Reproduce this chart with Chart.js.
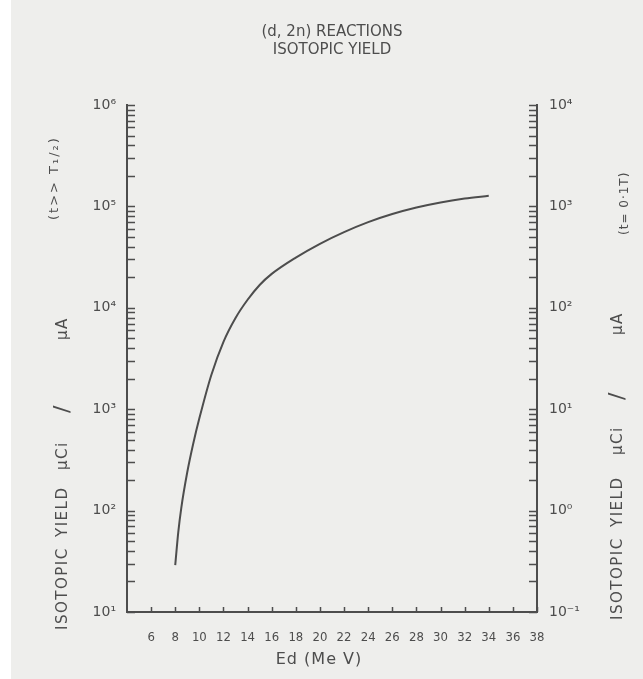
<!DOCTYPE html>
<html>
<head>
<meta charset="utf-8">
<script src="https://cdn.jsdelivr.net/npm/chart.js@4.4.0/dist/chart.umd.min.js"></script>
<style>
  html, body { margin: 0; padding: 0; background: #fff; }
</style>
</head>
<body>
<canvas id="chart" width="643" height="679"></canvas>
<script>
// Deuteron energy (MeV) and isotopic yield (uCi/uA, t >> T1/2)
const energy = [8, 8.25, 8.5, 9, 9.5, 10, 11, 12, 13, 14, 15, 16, 18, 20, 22, 24, 26, 28, 30, 32, 34];
const yieldSat = [29, 61, 106, 240, 462, 813, 2190, 4620, 7940, 12000, 16800, 21600, 31300, 42800, 55800, 70000, 84100, 97500, 109400, 119400, 127400];

// axis ticks
const xTicks = [6, 8, 10, 12, 14, 16, 18, 20, 22, 24, 26, 28, 30, 32, 34, 36, 38];
const leftDecades = [1e1, 1e2, 1e3, 1e4, 1e5, 1e6];
const rightDecades = [1e-1, 1e0, 1e1, 1e2, 1e3, 1e4];
const minorSteps = [2, 3, 4, 5, 6, 7, 8, 9];

const INK = '#4d4d4d';
const PAPER = '#eeeeec';
const sup = { '-': '\u207B', '0': '\u2070', '1': '\u00B9', '2': '\u00B2', '3': '\u00B3',
  '4': '\u2074', '5': '\u2075', '6': '\u2076', '7': '\u2077', '8': '\u2078', '9': '\u2079' };

function logTicks(decades) {
  const out = [];
  decades.forEach((d, i) => {
    out.push({ value: d });
    if (i < decades.length - 1) minorSteps.forEach(m => out.push({ value: d * m }));
  });
  return out;
}

function decadeLabel(value) {
  const e = Math.log10(value);
  if (Math.abs(e - Math.round(e)) > 1e-6) return '';
  return '10' + String(Math.round(e)).split('').map(c => sup[c]).join('');
}

// draw a text run reading bottom-to-top
function vtext(ctx, str, x, y, font, spacing) {
  ctx.save();
  ctx.translate(x, y);
  ctx.rotate(-Math.PI / 2);
  ctx.font = font;
  ctx.letterSpacing = spacing || '0px';
  ctx.fillStyle = INK;
  ctx.textAlign = 'left';
  ctx.textBaseline = 'middle';
  ctx.fillText(str, 0, 0);
  ctx.restore();
}

const paper = {
  id: 'paper',
  beforeDraw(chart) {
    const ctx = chart.ctx;
    ctx.save();
    ctx.fillStyle = '#ffffff';
    ctx.fillRect(0, 0, chart.width, chart.height);
    ctx.fillStyle = PAPER;
    ctx.fillRect(11, 0, chart.width - 11, chart.height);
    ctx.restore();
  }
};

// tick marks drawn inside the plot, like the printed log paper
const innerTicks = {
  id: 'innerTicks',
  afterDraw(chart) {
    const ctx = chart.ctx;
    const area = chart.chartArea;
    const { x, y, y2 } = chart.scales;
    ctx.save();
    ctx.strokeStyle = INK;
    ctx.lineWidth = 1.5;
    ctx.beginPath();
    y.ticks.forEach(t => {
      const py = Math.round(y.getPixelForValue(t.value)) + 0.5;
      ctx.moveTo(area.left, py);
      ctx.lineTo(area.left + 8, py);
    });
    y2.ticks.forEach(t => {
      const py = Math.round(y2.getPixelForValue(t.value)) + 0.5;
      ctx.moveTo(area.right, py);
      ctx.lineTo(area.right - 8, py);
    });
    x.ticks.forEach(t => {
      const px = Math.round(x.getPixelForValue(t.value)) + 0.5;
      ctx.moveTo(px, area.bottom);
      ctx.lineTo(px, area.bottom - 5);
    });
    ctx.stroke();
    ctx.restore();
  }
};

const axisTitles = {
  id: 'axisTitles',
  afterDraw(chart) {
    const ctx = chart.ctx;
    const f = '15px "DejaVu Sans"';
    // left
    vtext(ctx, 'ISOTOPIC', 63, 630, f, '1.5px');
    vtext(ctx, 'YIELD', 63, 537, f, '1.5px');
    vtext(ctx, '\u03BCCi', 63, 470, f, '1.5px');
    vtext(ctx, '/', 63, 413, '22px "DejaVu Sans"');
    vtext(ctx, '\u03BCA', 63, 340, f, '1.5px');
    vtext(ctx, '(t>> T\u2081/\u2082)', 55, 220, '13px "DejaVu Sans"', '2px');
    // right
    vtext(ctx, 'ISOTOPIC', 618, 620, f, '1.5px');
    vtext(ctx, 'YIELD', 618, 527, f, '1.5px');
    vtext(ctx, '\u03BCCi', 618, 455, f, '1.5px');
    vtext(ctx, '/', 618, 400, '22px "DejaVu Sans"');
    vtext(ctx, '\u03BCA', 618, 335, f, '1.5px');
    vtext(ctx, '(t= 0\u00B71T)', 625, 235, '12px "DejaVu Sans"', '1px');
    // bottom
    ctx.save();
    ctx.font = '16px "DejaVu Sans"';
    ctx.letterSpacing = '1px';
    ctx.fillStyle = INK;
    ctx.textAlign = 'center';
    ctx.textBaseline = 'middle';
    ctx.fillText('Ed (Me V)', 319, 660);
    ctx.restore();
  }
};

const canvas = document.getElementById('chart');
const context = canvas.getContext('2d');
const chart = new Chart(context, {
  type: 'line',
  data: {
    datasets: [{
      label: 'Isotopic yield',
      data: energy.map((e, i) => ({ x: e, y: yieldSat[i] })),
      borderColor: INK,
      borderWidth: 2,
      pointRadius: 0,
      cubicInterpolationMode: 'monotone',
      yAxisID: 'y'
    }]
  },
  options: {
    responsive: false,
    animation: false,
    layout: { padding: 0 },
    plugins: {
      legend: { display: false },
      tooltip: { enabled: false },
      title: {
        display: true,
        fullSize: false,
        text: ['(d, 2n) REACTIONS', 'ISOTOPIC YIELD'],
        color: INK,
        font: { family: 'DejaVu Sans', size: 15, weight: 'normal', lineHeight: 1.2 },
        padding: { top: 23, bottom: 46 }
      }
    },
    scales: {
      x: {
        type: 'linear',
        min: 4,
        max: 38,
        afterBuildTicks: s => { s.ticks = xTicks.map(v => ({ value: v })); },
        afterFit: s => { s.height = 67; },
        grid: { display: false },
        border: { display: true, color: INK, width: 2 },
        ticks: {
          autoSkip: false,
          maxRotation: 0,
          padding: 10,
          color: INK,
          font: { family: 'DejaVu Sans Condensed, DejaVu Sans', size: 13 }
        }
      },
      y: {
        type: 'logarithmic',
        position: 'left',
        min: 1e1,
        max: 1e6,
        afterBuildTicks: s => { s.ticks = logTicks(leftDecades); },
        afterFit: s => { s.width = 127; },
        grid: { display: false },
        border: { display: true, color: INK, width: 2 },
        ticks: {
          autoSkip: false,
          padding: 3,
          color: INK,
          font: { family: 'DejaVu Sans', size: 14 },
          callback: v => decadeLabel(v)
        }
      },
      y2: {
        type: 'logarithmic',
        position: 'right',
        min: 1e-1,
        max: 1e4,
        afterBuildTicks: s => { s.ticks = logTicks(rightDecades); },
        afterFit: s => { s.width = 106; },
        grid: { display: false },
        border: { display: true, color: INK, width: 2 },
        ticks: {
          autoSkip: false,
          padding: 4,
          color: INK,
          font: { family: 'DejaVu Sans', size: 14 },
          callback: v => decadeLabel(v)
        }
      }
    }
  },
  plugins: [paper, innerTicks, axisTitles]
});
</script>
</body>
</html>
